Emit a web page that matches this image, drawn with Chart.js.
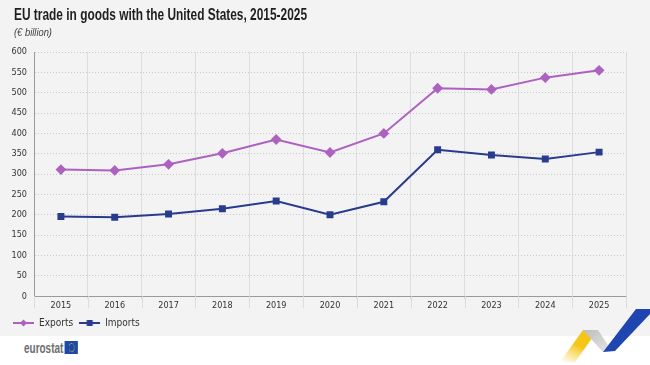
<!doctype html>
<html lang="en">
<head>
  <meta charset="utf-8">
  <title>EU trade in goods with the United States</title>
  <style>
    * { margin: 0; padding: 0; }
    body { width: 650px; height: 365px; background: #ffffff; position: relative; overflow: hidden; font-family: 'Liberation Sans', Arial, sans-serif; }
    .chartBox { position: absolute; left: 0; top: 0; width: 650px; height: 336px; background: #f3f3f3; }
    .chartBox canvas { position: absolute; left: 5px; top: 0; }
    .squash { position: absolute; white-space: nowrap; transform-origin: 0 0; }
    #title { left: 14px; top: 5px; font-size: 17px; font-weight: bold; color: #1f1f1f; }
    #unit { left: 14px; top: 26px; font-size: 11px; font-style: italic; color: #444; }
    #logo { left: 24px; top: 339px; font-size: 15px; font-weight: bold; color: #6e6e6e; }
    .flag { display: inline-block; width: 20px; height: 13px; background: #1f49a8; vertical-align: -1px; margin-left: 2px; position: relative; }
    .flag span { position: absolute; left: 6px; top: 2px; width: 7px; height: 7px; border: 1px dotted #f5d000; border-radius: 50%; }
    .deco { position: absolute; left: 0; top: 0; }
  </style>
</head>
<body>
  <div class="chartBox">
    <canvas id="myChart" width="645" height="336"></canvas>
  </div>
  <div class="squash" id="title" data-w="293">EU trade in goods with the United States, 2015-2025</div>
  <div class="squash" id="unit" data-w="38">(€ billion)</div>
  <div class="squash" id="logo" data-w="54">eurostat<span class="flag"><span></span></span></div>
  <svg class="deco" width="650" height="365">
    <defs>
      <linearGradient id="yel" x1="0" y1="1" x2="0.6" y2="0">
        <stop offset="0" stop-color="#f7d23a" stop-opacity="0"/>
        <stop offset="0.6" stop-color="#f5c518"/>
        <stop offset="1" stop-color="#f5c518"/>
      </linearGradient>
      <linearGradient id="gry" x1="0" y1="0" x2="1" y2="1">
        <stop offset="0" stop-color="#bdbdbd"/>
        <stop offset="1" stop-color="#e6e6e6"/>
      </linearGradient>
    </defs>
    <polygon points="560,362 583,330 598,330 575,362" fill="url(#yel)"/>
    <polygon points="583,330 598,330 612,351 603,352" fill="url(#gry)"/>
    <polygon points="603,352 636,309 650,309 650,314 615,351" fill="#1e45b0"/>
  </svg>
  <script src="https://cdn.jsdelivr.net/npm/chart.js"></script>
  <script>
    // data
    const years = ['2015', '2016', '2017', '2018', '2019', '2020', '2021', '2022', '2023', '2024', '2025'];
    const exportsData = [311, 309, 324, 351, 385, 353, 400, 511, 508, 537, 555];
    const importsData = [196, 194, 202, 215, 234, 200, 232, 360, 347, 337, 354];
    const yTicks = [0, 50, 100, 150, 200, 250, 300, 350, 400, 450, 500, 550, 600];

    const exportColor = '#ad62c1';
    const importColor = '#283c8e';
    const fontFam = "'DejaVu Sans Condensed', 'Liberation Sans Narrow', sans-serif";

    // the source picture is squeezed sideways, so squeeze the html texts to the same width
    document.querySelectorAll('.squash').forEach(el => {
      const w = el.getBoundingClientRect().width;
      el.style.transform = 'scaleX(' + (el.dataset.w / w) + ')';
    });

    // small line+marker icons for the legend
    function legendIcon(color, style) {
      const c = document.createElement('canvas');
      c.width = 21; c.height = 10;
      const ctx = c.getContext('2d');
      ctx.strokeStyle = color;
      ctx.lineWidth = 2;
      ctx.beginPath(); ctx.moveTo(0, 5); ctx.lineTo(21, 5); ctx.stroke();
      ctx.fillStyle = color;
      if (style === 'rectRot') {
        ctx.beginPath(); ctx.moveTo(10.5, 1.5); ctx.lineTo(14, 5); ctx.lineTo(10.5, 8.5); ctx.lineTo(7, 5); ctx.closePath(); ctx.fill();
      } else {
        ctx.fillRect(7.5, 2, 6, 6);
      }
      return c;
    }
    const icons = [legendIcon(exportColor, 'rectRot'), legendIcon(importColor, 'rect')];

    // vertical grid lines run on a little below the x axis, between the year labels
    const gridTails = {
      id: 'gridTails',
      afterDraw(chart) {
        const x = chart.scales.x;
        const ctx = chart.ctx;
        const half = (x.getPixelForValue(1) - x.getPixelForValue(0)) / 2;
        ctx.save();
        ctx.strokeStyle = '#dddddd';
        ctx.lineWidth = 1;
        ctx.beginPath();
        for (let i = 0; i <= years.length; i++) {
          const px = Math.round(x.getPixelForValue(i) - half) + 0.5;
          ctx.moveTo(px, x.top);
          ctx.lineTo(px, x.top + 12);
        }
        ctx.stroke();
        ctx.restore();
      }
    };

    const data = {
      labels: years,
      datasets: [{
          label: 'Exports',
          data: exportsData,
          borderColor: exportColor,
          backgroundColor: exportColor,
          borderWidth: 2,
          pointStyle: 'rectRot',
          pointRadius: 4,
          pointHoverRadius: 4
        },
        {
          label: 'Imports',
          data: importsData,
          borderColor: importColor,
          backgroundColor: importColor,
          borderWidth: 2,
          pointStyle: 'rect',
          pointRadius: 3.5,
          pointHoverRadius: 3.5
        }
      ]
    };

    const config = {
      type: 'line',
      data,
      options: {
        responsive: false,
        animation: false,
        layout: { padding: { left: 2, right: 24, top: 52, bottom: -2 } },
        plugins: {
          legend: {
            position: 'bottom',
            align: 'start',
            labels: {
              usePointStyle: true,
              pointStyleWidth: 21,
              color: '#333333',
              font: { family: fontFam, size: 10 },
              boxHeight: 10,
              padding: 6,
              generateLabels: (chart) => chart.data.datasets.map((ds, i) => ({
                text: ds.label,
                pointStyle: icons[i],
                fillStyle: ds.borderColor,
                strokeStyle: ds.borderColor,
                lineWidth: 0,
                fontColor: '#333333',
                datasetIndex: i,
                hidden: false
              }))
            }
          },
          tooltip: { enabled: false }
        },
        scales: {
          x: {
            offset: true,
            grid: { offset: true, color: '#dddddd', tickLength: 3 },
            border: { color: '#9a9a9a', width: 1 },
            ticks: { color: '#333333', font: { family: fontFam, size: 9 }, padding: 1, maxRotation: 0 }
          },
          y: {
            min: 0,
            max: 600,
            afterBuildTicks: (axis) => { axis.ticks = yTicks.map(v => ({ value: v })); },
            afterFit: (axis) => { axis.width = 27; },
            grid: { color: '#c8c8c8', drawTicks: false },
            border: { color: '#9a9a9a', width: 1, dash: [1, 2] },
            ticks: { color: '#333333', font: { family: fontFam, size: 9 }, padding: 7 }
          }
        }
      },
      plugins: [gridTails]
    };

    const myChart = new Chart(document.getElementById('myChart'), config);
  </script>
</body>
</html>
